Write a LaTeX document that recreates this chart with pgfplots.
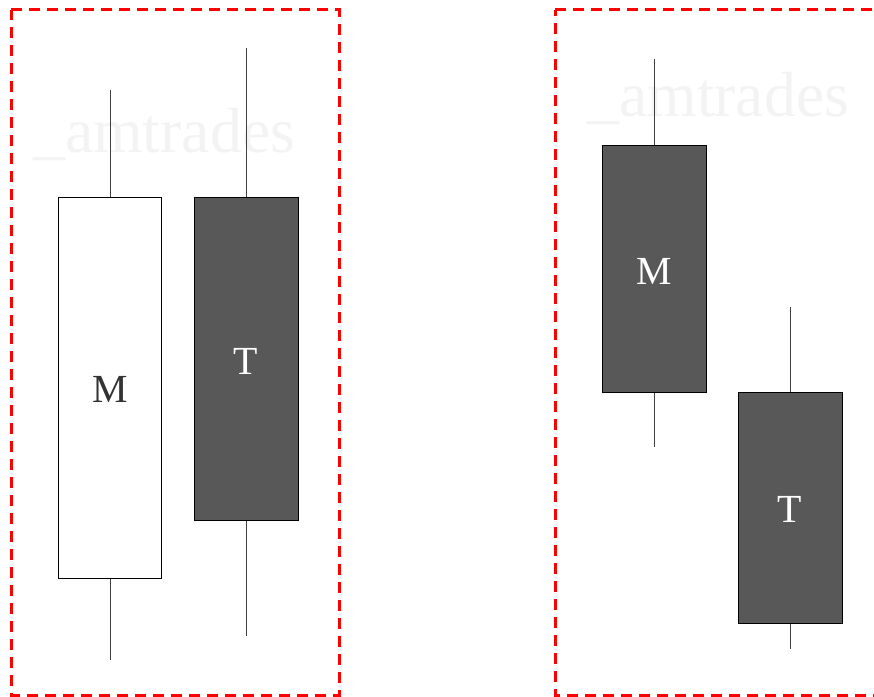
\documentclass[border=0pt]{standalone}
\usepackage{fontspec}
\setmainfont{Liberation Serif}
\usepackage{pgfplots}
\pgfplotsset{compat=1.18}
\definecolor{body}{HTML}{585858}
\definecolor{wm}{HTML}{F3F3F3}
\definecolor{lbl}{HTML}{333333}
\begin{document}
\begin{tikzpicture}
\begin{axis}[name=ax, at={(0,0)}, anchor=south west,
  scale only axis, width=874bp, height=697bp,
  xmin=0, xmax=874, ymin=0, ymax=697, y dir=reverse,
  axis lines=none, clip=true]
% watermarks
\node[anchor=base west, text=wm, inner sep=0pt, font=\fontsize{64}{64}\selectfont] at (axis cs:33,153) {\_amtrades};
\node[anchor=base west, text=wm, inner sep=0pt, font=\fontsize{64}{64}\selectfont] at (axis cs:587,117) {\_amtrades};
% wicks
\addplot[black!75, line width=0.9bp] coordinates {(110,90) (110,660)};
\addplot[black!75, line width=0.9bp] coordinates {(246,48) (246,636)};
\addplot[black!75, line width=0.9bp] coordinates {(654,59) (654,447)};
\addplot[black!75, line width=0.9bp] coordinates {(790,307) (790,649)};
% bodies
\addplot[draw=black, fill=white, line width=0.8bp] coordinates {(58,197) (161,197) (161,578) (58,578)} -- cycle;
\addplot[draw=black, fill=body, line width=0.8bp] coordinates {(194,197) (298,197) (298,520) (194,520)} -- cycle;
\addplot[draw=black, fill=body, line width=0.8bp] coordinates {(602,145) (706,145) (706,392) (602,392)} -- cycle;
\addplot[draw=black, fill=body, line width=0.8bp] coordinates {(738,392) (842,392) (842,623) (738,623)} -- cycle;
% labels
\node[anchor=base, text=lbl, inner sep=0pt, font=\fontsize{40}{40}\selectfont] at (axis cs:110,402) {M};
\node[anchor=base, text=white, inner sep=0pt, font=\fontsize{40}{40}\selectfont] at (axis cs:246,374) {T};
\node[anchor=base, text=white, inner sep=0pt, font=\fontsize{40}{40}\selectfont] at (axis cs:654,284) {M};
\node[anchor=base, text=white, inner sep=0pt, font=\fontsize{40}{40}\selectfont] at (axis cs:790,522) {T};
% red dashed boxes
\addplot[red, line width=3bp, dash pattern=on 11bp off 7bp] coordinates {(11,10) (339,10) (339,695) (11,695)} -- cycle;
\addplot[red, line width=3bp, dash pattern=on 11bp off 7bp] coordinates {(555,10) (890,10) (890,695) (555,695)} -- cycle;
\end{axis}
\pgfresetboundingbox
\path (ax.south west) rectangle (ax.north east);
\end{tikzpicture}
\end{document}
